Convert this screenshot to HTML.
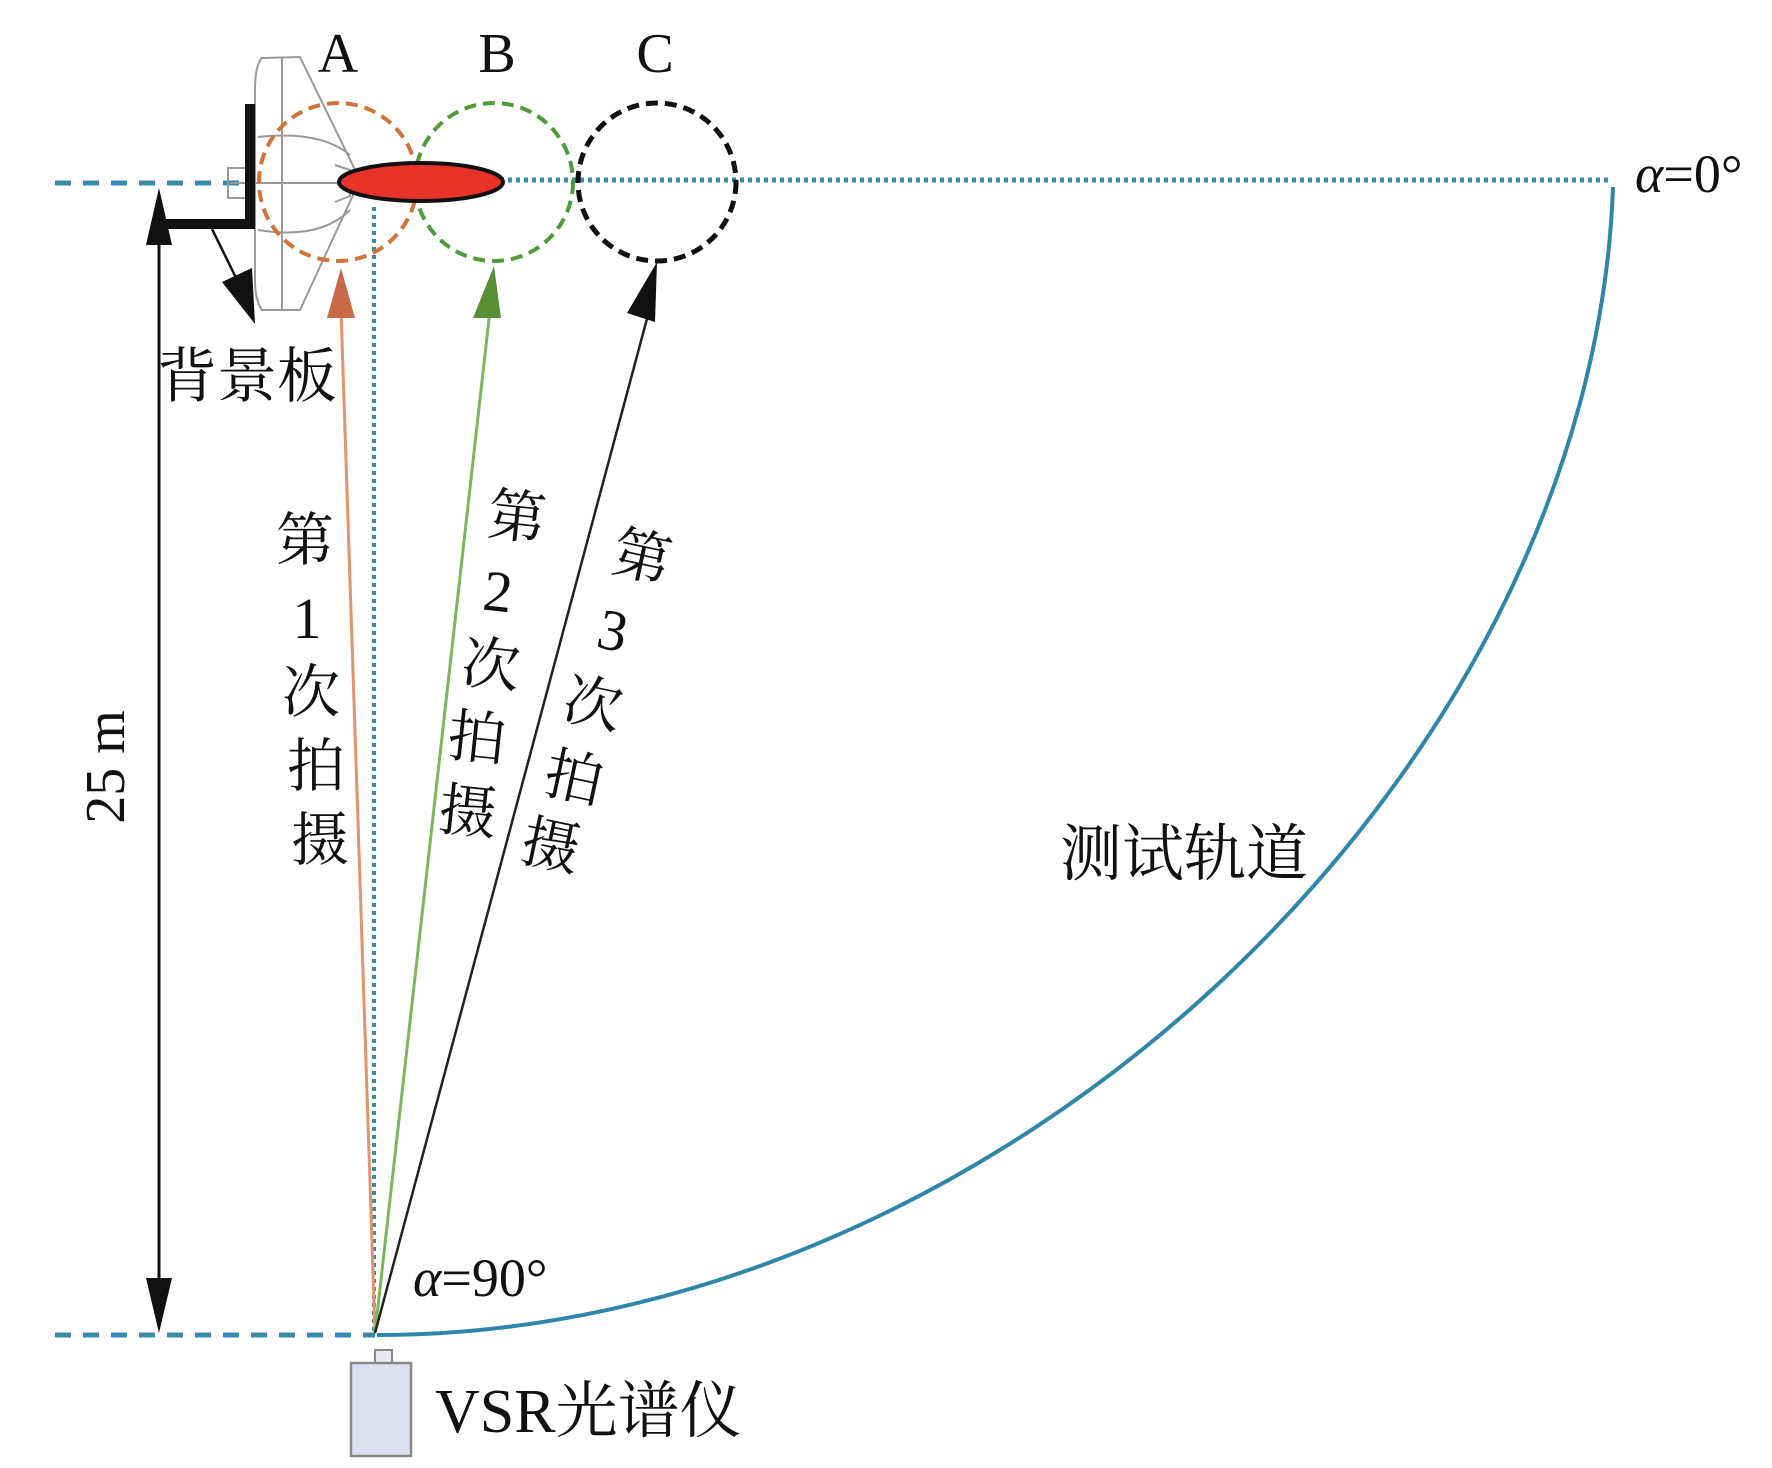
<!DOCTYPE html>
<html><head><meta charset="utf-8"><style>
html,body{margin:0;padding:0;background:#fff;}
svg{display:block;}
text{font-family:"Liberation Serif","Noto Serif CJK SC",serif;fill:#111;}
</style></head><body>
<svg width="1772" height="1468" viewBox="0 0 1772 1468" xmlns="http://www.w3.org/2000/svg">
<line x1="55" y1="183" x2="240" y2="183" stroke="#3a8aa8" stroke-width="5" stroke-dasharray="16,12"/>
<line x1="500" y1="180" x2="1612" y2="180" stroke="#3a8aa8" stroke-width="5" stroke-dasharray="4,4"/>
<line x1="55" y1="1335" x2="375" y2="1335" stroke="#3a8aa8" stroke-width="5" stroke-dasharray="16,12"/>
<line x1="374" y1="207" x2="374" y2="1333" stroke="#3a8aa8" stroke-width="4" stroke-dasharray="4,4"/>
<path d="M1613,187 C1592,775 1000,1335 377,1335" fill="none" stroke="#2e86a8" stroke-width="4"/>
<g fill="none" stroke="#999" stroke-width="2">
<path d="M262,58 L300,57 L360,180 L300,310 L262,310 Q255,300 255,280 L255,90 Q255,65 262,58Z"/>
<line x1="282" y1="58" x2="282" y2="310"/>
<path d="M258,137 Q320,130 350,155"/>
<path d="M258,230 Q320,240 350,210"/>
<line x1="230" y1="183" x2="345" y2="183"/>
<rect x="228" y="168" width="18" height="30"/>
<path d="M335,165 L350,170 L350,196 L335,202"/>
</g>
<polyline points="250,104 250,224 160,224" fill="none" stroke="#111" stroke-width="10"/>
<line x1="212" y1="229" x2="243" y2="292" stroke="#111" stroke-width="2.5"/>
<polygon points="222,282 252,268 255,324" fill="#111"/>
<circle cx="338" cy="182" r="79" fill="none" stroke="#d0743c" stroke-width="4" stroke-dasharray="12,7"/>
<circle cx="494" cy="182" r="79" fill="none" stroke="#4f9a3a" stroke-width="4" stroke-dasharray="12,7"/>
<circle cx="657" cy="182" r="79" fill="none" stroke="#111" stroke-width="5" stroke-dasharray="12,7"/>
<ellipse cx="421" cy="182" rx="82" ry="19" fill="#e8332a" stroke="#111" stroke-width="4"/>
<text x="338" y="72" font-size="56" text-anchor="middle">A</text>
<text x="497" y="72" font-size="56" text-anchor="middle">B</text>
<text x="655" y="72" font-size="56" text-anchor="middle">C</text>
<text x="1635" y="192" font-size="54"><tspan font-style="italic">α</tspan>=0°</text>
<line x1="375" y1="1333" x2="341" y2="310" stroke="#e0956c" stroke-width="3"/>
<polygon points="327,318 355,318 341,268" fill="#c86a48"/>
<line x1="375" y1="1333" x2="490" y2="310" stroke="#7cb65a" stroke-width="3"/>
<polygon points="473,318 501,318 494,266" fill="#5a8e36"/>
<line x1="375" y1="1333" x2="648" y2="315" stroke="#222" stroke-width="2.5"/>
<polygon points="627,313 655,322 657,262" fill="#111"/>
<line x1="159" y1="230" x2="159" y2="1290" stroke="#111" stroke-width="3"/>
<polygon points="146,245 172,245 159,188" fill="#111"/>
<polygon points="146,1278 172,1278 159,1333" fill="#111"/>
<text x="0" y="0" font-size="56" text-anchor="middle" transform="translate(124,767) rotate(-90)">25 m</text>
<text x="157" y="397" font-size="60">背景板</text>
<g font-size="58" text-anchor="middle">
<text x="305" y="560">第</text>
<text x="307" y="638">1</text>
<text x="311" y="712">次</text>
<text x="316" y="786">拍</text>
<text x="320" y="860">摄</text>
<text x="517" y="537" transform="rotate(6 517 517)">第</text>
<text x="498" y="611" transform="rotate(6 498 591)">2</text>
<text x="491" y="685" transform="rotate(6 491 665)">次</text>
<text x="477" y="758" transform="rotate(6 477 738)">拍</text>
<text x="468" y="832" transform="rotate(6 468 812)">摄</text>
<text x="642" y="577" transform="rotate(12 642 557)">第</text>
<text x="613" y="650" transform="rotate(12 613 630)">3</text>
<text x="593" y="724" transform="rotate(12 593 704)">次</text>
<text x="574" y="798" transform="rotate(12 574 778)">拍</text>
<text x="551" y="866" transform="rotate(12 551 846)">摄</text>
</g>
<text x="1060" y="875" font-size="62">测试轨道</text>
<text x="413" y="1296" font-size="54"><tspan font-style="italic">α</tspan>=90°</text>
<rect x="375" y="1350" width="17" height="14" fill="#e6e8f4" stroke="#888" stroke-width="2"/>
<rect x="351" y="1363" width="60" height="93" fill="#dde0f0" stroke="#888" stroke-width="2.5"/>
<text x="435" y="1432" font-size="62">VSR光谱仪</text>
</svg>
</body></html>
